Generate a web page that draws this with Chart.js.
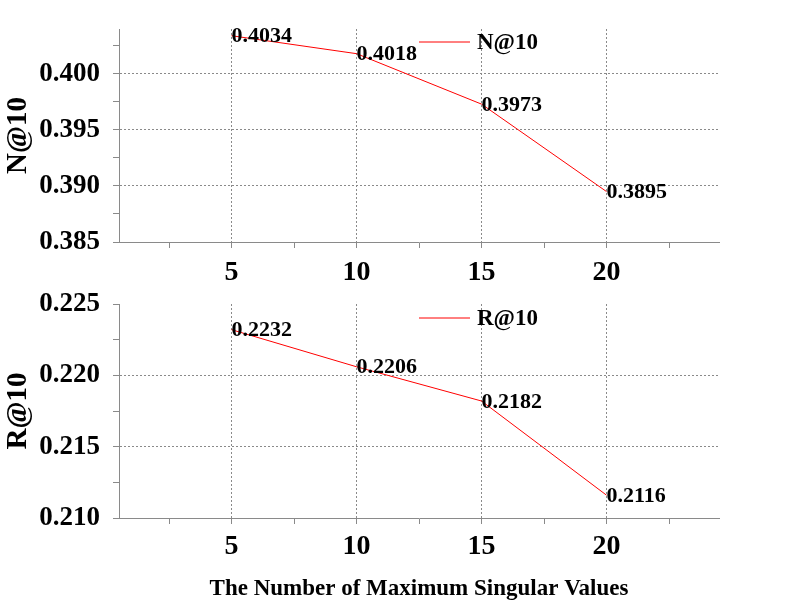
<!DOCTYPE html>
<html>
<head>
<meta charset="utf-8">
<script src="https://cdn.jsdelivr.net/npm/chart.js@4.4.1/dist/chart.umd.min.js"></script>
<style>
  html, body { margin: 0; padding: 0; background: #fff; }
  #wrap { position: relative; width: 797px; height: 610px; }
  canvas { position: absolute; left: 0; }
</style>
</head>
<body>
<div id="wrap">
  <canvas id="nChart" width="797" height="290" style="top:0px"></canvas>
  <canvas id="rChart" width="797" height="320" style="top:290px"></canvas>
</div>
<script>
// donnees
const singularValues = [5, 10, 15, 20];
const ndcgValues = [0.4034, 0.4018, 0.3973, 0.3895];
const recallValues = [0.2232, 0.2206, 0.2182, 0.2116];

// graduations (majeures + mineures)
const xTicks = [2.5, 5, 7.5, 10, 12.5, 15, 17.5, 20, 22.5];
const xTickLabels = [5, 10, 15, 20];
const ndcgTicks = [0.385, 0.3875, 0.39, 0.3925, 0.395, 0.3975, 0.4, 0.4025];
const recallTicks = [0.21, 0.2125, 0.215, 0.2175, 0.22, 0.2225, 0.225];

const SERIF = "'Liberation Serif', 'Times New Roman', serif";
const AXIS_GREY = '#8a8a8a';
const GRID_GREY = '#8a8a8a';

function isMajor(v, step) {
    const r = v / step;
    return Math.abs(r - Math.round(r)) < 1e-6;
}

// etiquettes de valeur a cote de chaque point
const valueLabels = {
    id: 'valueLabels',
    afterDatasetsDraw(chart) {
        const ctx = chart.ctx;
        ctx.save();
        ctx.font = 'bold 22px ' + SERIF;
        ctx.fillStyle = '#000';
        ctx.textAlign = 'left';
        ctx.textBaseline = 'middle';
        chart.data.datasets.forEach((ds, i) => {
            chart.getDatasetMeta(i).data.forEach((pt, j) => {
                ctx.fillText(ds.data[j].y.toFixed(4), pt.x, pt.y + 1);
            });
        });
        ctx.restore();
    }
};

// legende dessinee dans la zone du graphique
const inlineLegend = {
    id: 'inlineLegend',
    afterDraw(chart, args, opts) {
        const ctx = chart.ctx;
        const area = chart.chartArea;
        const ds = chart.data.datasets[0];
        const x0 = (area.left + area.right) / 2;
        const y = area.top + opts.offsetY;
        ctx.save();
        ctx.strokeStyle = ds.borderColor;
        ctx.lineWidth = 1;
        ctx.beginPath();
        ctx.moveTo(x0, y);
        ctx.lineTo(x0 + 51, y);
        ctx.stroke();
        ctx.font = 'bold 23px ' + SERIF;
        ctx.fillStyle = '#000';
        ctx.textAlign = 'left';
        ctx.textBaseline = 'middle';
        ctx.fillText(ds.label, x0 + 58, y + 1);
        ctx.restore();
    }
};

function buildChart(canvasId, label, values, yTicks, yMin, yMax, opts) {
    const ctx = document.getElementById(canvasId);
    return new Chart(ctx, {
        type: 'line',
        data: {
            datasets: [{
                label: label,
                data: values,
                borderColor: '#ff0000',
                borderWidth: 1,
                pointRadius: 0,
                tension: 0,
                fill: false
            }]
        },
        options: {
            responsive: false,
            animation: false,
            layout: {
                padding: { left: 0, top: opts.top, right: 78, bottom: 0 }
            },
            plugins: {
                legend: { display: false },
                tooltip: { enabled: false },
                inlineLegend: { offsetY: opts.legendY }
            },
            scales: {
                x: {
                    type: 'linear',
                    min: 0.5,
                    max: 24.5,
                    afterBuildTicks: scale => {
                        scale.ticks = xTicks.map(v => ({ value: v }));
                    },
                    afterFit: scale => {
                        scale.height = opts.xHeight;
                        scale.paddingLeft = 0;
                        scale.paddingRight = 0;
                    },
                    ticks: {
                        autoSkip: false,
                        maxRotation: 0,
                        padding: opts.xPad,
                        color: '#000',
                        font: { family: SERIF, size: 28, weight: 'bold' },
                        callback: v => xTickLabels.includes(v) ? String(v) : ''
                    },
                    grid: {
                        color: c => (c.tick && isMajor(c.tick.value, 5)) ? GRID_GREY : 'rgba(0,0,0,0)',
                        lineWidth: 1,
                        tickColor: AXIS_GREY,
                        tickLength: 6,
                        tickBorderDash: []
                    },
                    border: { display: true, color: AXIS_GREY, width: 1, dash: [2, 2] },
                    title: opts.xTitle ? {
                        display: true,
                        text: opts.xTitle,
                        color: '#000',
                        font: { family: SERIF, size: 23, weight: 'bold' },
                        padding: { top: 0, bottom: 7 }
                    } : { display: false }
                },
                y: {
                    min: yMin,
                    max: yMax,
                    afterBuildTicks: scale => {
                        scale.ticks = yTicks.map(v => ({ value: v }));
                    },
                    afterFit: scale => {
                        scale.width = 119;
                        scale.paddingTop = 0;
                        scale.paddingBottom = 0;
                    },
                    ticks: {
                        autoSkip: false,
                        padding: 13,
                        color: '#000',
                        font: { family: SERIF, size: 27, weight: 'bold' },
                        callback: v => isMajor(v, 0.005) ? v.toFixed(3) : ''
                    },
                    grid: {
                        color: c => {
                            if (!c.tick) return 'rgba(0,0,0,0)';
                            const v = c.tick.value;
                            const edge = Math.abs(v - yMin) < 1e-9 || Math.abs(v - yMax) < 1e-9;
                            return (isMajor(v, 0.005) && !edge) ? GRID_GREY : 'rgba(0,0,0,0)';
                        },
                        lineWidth: 1,
                        tickColor: AXIS_GREY,
                        tickLength: 6,
                        tickBorderDash: []
                    },
                    border: { display: true, color: AXIS_GREY, width: 1, dash: [2, 2] },
                    title: {
                        display: true,
                        text: label,
                        color: '#000',
                        font: { family: SERIF, size: 29, weight: 'bold' },
                        padding: { top: 1, bottom: 0 }
                    }
                }
            }
        },
        plugins: [valueLabels, inlineLegend]
    });
}

const toPoints = vals => singularValues.map((x, i) => ({ x: x, y: vals[i] }));

buildChart('nChart', 'N@10', toPoints(ndcgValues), ndcgTicks, 0.385, 0.404,
    { top: 29, xHeight: 48, xPad: 8, legendY: 13 });
buildChart('rChart', 'R@10', toPoints(recallValues), recallTicks, 0.21, 0.225,
    { top: 14, xHeight: 92, xPad: 6, legendY: 14, xTitle: 'The Number of Maximum Singular Values' });
</script>
</body>
</html>
